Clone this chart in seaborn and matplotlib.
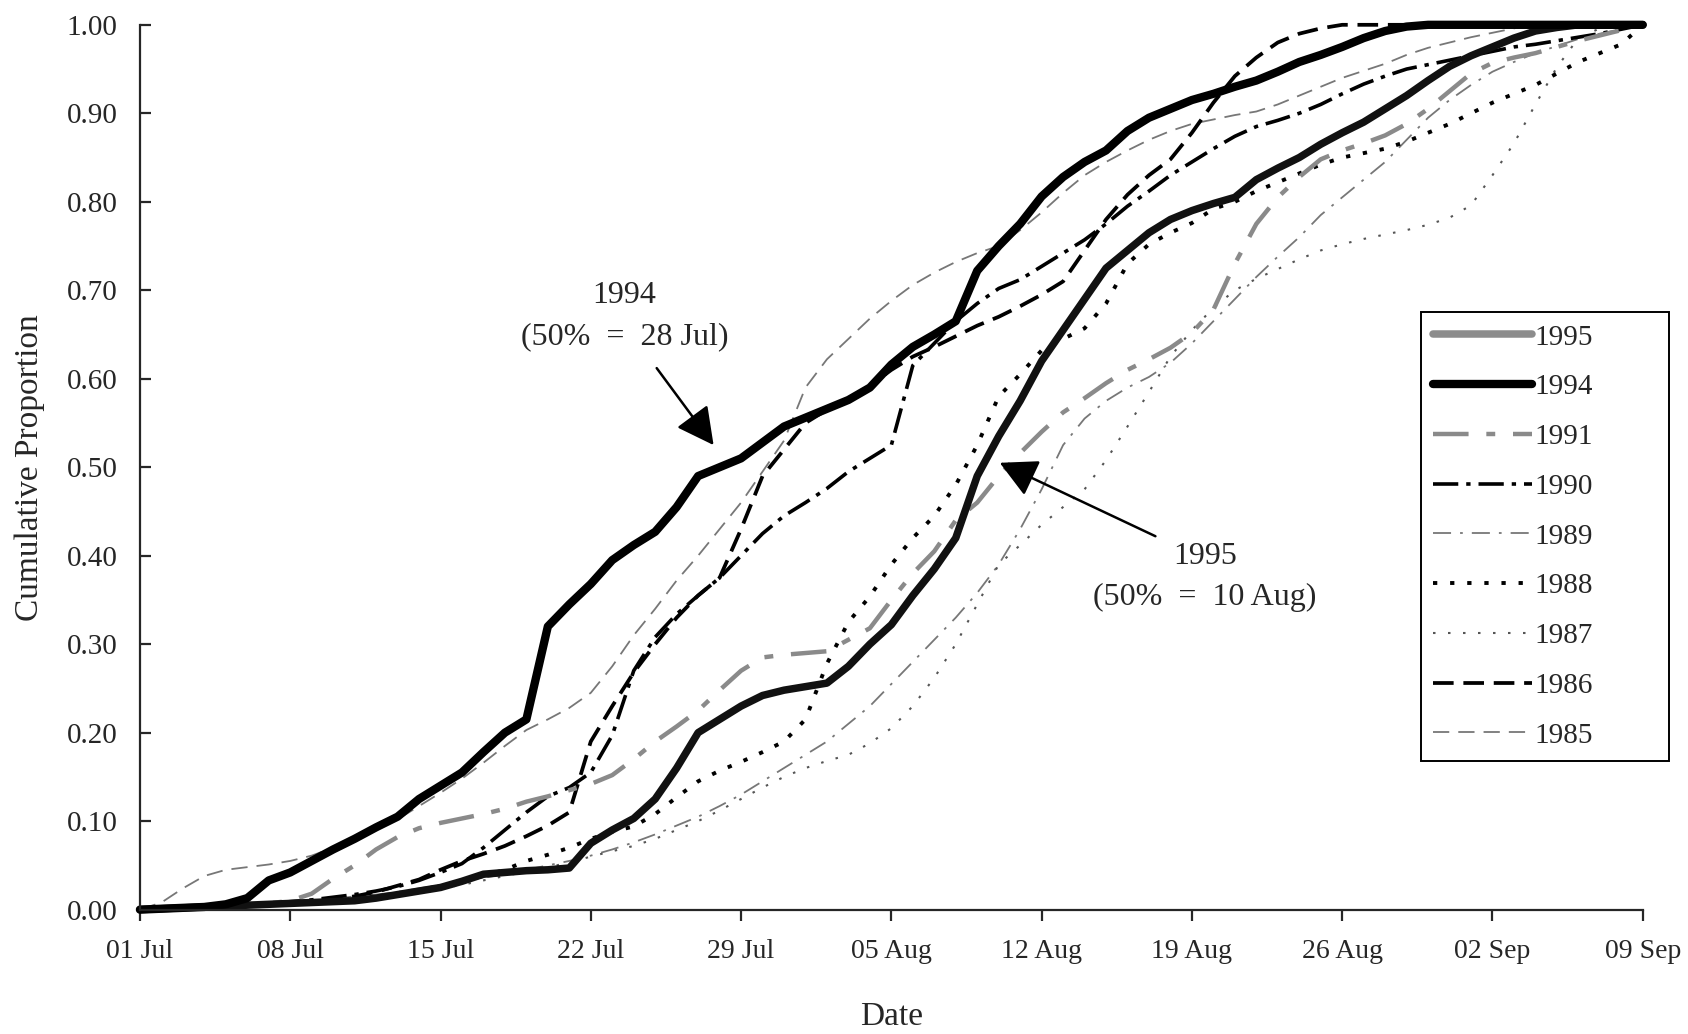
import matplotlib
matplotlib.use("Agg")
import matplotlib.pyplot as plt
import seaborn as sns
import pandas as pd
from matplotlib.lines import Line2D

# ---------------- data ----------------
days = list(range(71))  # 0 = 01 Jul ... 70 = 09 Sep
tick_days = [0, 7, 14, 21, 28, 35, 42, 49, 56, 63, 70]
tick_labels = ["01 Jul", "08 Jul", "15 Jul", "22 Jul", "29 Jul", "05 Aug",
               "12 Aug", "19 Aug", "26 Aug", "02 Sep", "09 Sep"]
y_ticks = [0.0, 0.1, 0.2, 0.3, 0.4, 0.5, 0.6, 0.7, 0.8, 0.9, 1.0]

y1994 = [0.000, 0.001, 0.002, 0.003, 0.006, 0.013, 0.033, 0.042, 0.055, 0.068,
         0.080, 0.093, 0.105, 0.125, 0.140, 0.155, 0.178, 0.200, 0.215, 0.320,
         0.345, 0.368, 0.395, 0.412, 0.427, 0.455, 0.490, 0.500, 0.510, 0.528,
         0.546, 0.556, 0.566, 0.576, 0.590, 0.616, 0.636, 0.650, 0.665, 0.722,
         0.750, 0.775, 0.806, 0.828, 0.845, 0.858, 0.880, 0.895, 0.905, 0.915,
         0.922, 0.930, 0.937, 0.947, 0.958, 0.966, 0.975, 0.985, 0.993, 0.998,
         1.000, 1.000, 1.000, 1.000, 1.000, 1.000, 1.000, 1.000, 1.000, 1.000,
         1.000]

y1995 = [0.000, 0.001, 0.002, 0.003, 0.004, 0.005, 0.006, 0.007, 0.008, 0.009,
         0.010, 0.013, 0.017, 0.021, 0.025, 0.032, 0.040, 0.042, 0.044, 0.045,
         0.047, 0.075, 0.090, 0.103, 0.125, 0.160, 0.200, 0.215, 0.230, 0.242,
         0.248, 0.252, 0.256, 0.275, 0.300, 0.322, 0.355, 0.385, 0.420, 0.490,
         0.535, 0.575, 0.620, 0.655, 0.690, 0.725, 0.745, 0.765, 0.780, 0.790,
         0.798, 0.805, 0.825, 0.838, 0.850, 0.865, 0.878, 0.890, 0.905, 0.920,
         0.937, 0.953, 0.965, 0.975, 0.985, 0.993, 0.997, 1.000, 1.000, 1.000,
         1.000]

y1991 = [0.000, 0.001, 0.002, 0.003, 0.004, 0.005, 0.007, 0.010, 0.018, 0.035,
         0.050, 0.068, 0.082, 0.092, 0.098, 0.103, 0.108, 0.114, 0.122, 0.128,
         0.135, 0.142, 0.152, 0.170, 0.190, 0.207, 0.225, 0.248, 0.270, 0.285,
         0.288, 0.290, 0.292, 0.305, 0.318, 0.350, 0.380, 0.405, 0.440, 0.460,
         0.490, 0.516, 0.540, 0.562, 0.578, 0.595, 0.610, 0.622, 0.635, 0.652,
         0.678, 0.730, 0.775, 0.805, 0.828, 0.848, 0.858, 0.866, 0.875, 0.888,
         0.905, 0.925, 0.945, 0.957, 0.963, 0.968, 0.975, 0.982, 0.988, 0.994,
         1.000]

y1990 = [0.000, 0.000, 0.001, 0.002, 0.003, 0.005, 0.007, 0.009, 0.011, 0.014,
         0.017, 0.021, 0.026, 0.033, 0.042, 0.052, 0.070, 0.090, 0.110, 0.128,
         0.138, 0.155, 0.197, 0.270, 0.308, 0.334, 0.355, 0.375, 0.400, 0.425,
         0.445, 0.460, 0.476, 0.495, 0.510, 0.525, 0.615, 0.640, 0.665, 0.685,
         0.702, 0.712, 0.727, 0.742, 0.757, 0.775, 0.795, 0.812, 0.830, 0.845,
         0.860, 0.874, 0.885, 0.892, 0.900, 0.910, 0.922, 0.933, 0.942, 0.950,
         0.955, 0.960, 0.965, 0.970, 0.975, 0.978, 0.982, 0.986, 0.990, 0.995,
         1.000]

y1989 = [0.000, 0.000, 0.001, 0.002, 0.003, 0.004, 0.006, 0.008, 0.010, 0.012,
         0.015, 0.017, 0.020, 0.024, 0.028, 0.032, 0.036, 0.040, 0.045, 0.050,
         0.055, 0.061, 0.068, 0.076, 0.085, 0.095, 0.105, 0.117, 0.130, 0.145,
         0.160, 0.175, 0.190, 0.210, 0.230, 0.255, 0.280, 0.305, 0.330, 0.358,
         0.390, 0.430, 0.475, 0.525, 0.555, 0.575, 0.590, 0.602, 0.618, 0.640,
         0.665, 0.690, 0.715, 0.738, 0.760, 0.785, 0.805, 0.825, 0.845, 0.870,
         0.895, 0.915, 0.932, 0.947, 0.958, 0.968, 0.976, 0.984, 0.990, 0.995,
         1.000]

y1988 = [0.000, 0.000, 0.001, 0.002, 0.003, 0.004, 0.005, 0.006, 0.008, 0.010,
         0.012, 0.015, 0.018, 0.022, 0.027, 0.032, 0.038, 0.045, 0.055, 0.062,
         0.070, 0.080, 0.088, 0.094, 0.108, 0.127, 0.145, 0.157, 0.167, 0.178,
         0.190, 0.215, 0.278, 0.325, 0.354, 0.390, 0.420, 0.445, 0.480, 0.525,
         0.580, 0.605, 0.632, 0.645, 0.657, 0.685, 0.730, 0.752, 0.765, 0.776,
         0.792, 0.800, 0.812, 0.822, 0.832, 0.842, 0.850, 0.855, 0.860, 0.868,
         0.878, 0.888, 0.900, 0.912, 0.922, 0.932, 0.945, 0.958, 0.968, 0.978,
         1.000]

y1987 = [0.000, 0.000, 0.001, 0.001, 0.002, 0.003, 0.004, 0.005, 0.007, 0.009,
         0.011, 0.014, 0.017, 0.020, 0.024, 0.028, 0.033, 0.038, 0.043, 0.048,
         0.053, 0.060, 0.066, 0.072, 0.080, 0.090, 0.100, 0.112, 0.125, 0.138,
         0.150, 0.160, 0.168, 0.175, 0.188, 0.205, 0.230, 0.262, 0.300, 0.345,
         0.390, 0.412, 0.435, 0.455, 0.475, 0.508, 0.546, 0.585, 0.625, 0.655,
         0.680, 0.700, 0.713, 0.724, 0.735, 0.745, 0.752, 0.758, 0.763, 0.768,
         0.774, 0.782, 0.796, 0.830, 0.866, 0.910, 0.952, 0.985, 0.996, 1.000,
         1.000]

y1986 = [0.000, 0.000, 0.001, 0.002, 0.003, 0.004, 0.006, 0.008, 0.010, 0.012,
         0.015, 0.020, 0.027, 0.034, 0.045, 0.055, 0.063, 0.072, 0.083, 0.095,
         0.110, 0.190, 0.230, 0.268, 0.300, 0.330, 0.355, 0.375, 0.430, 0.490,
         0.520, 0.550, 0.565, 0.578, 0.592, 0.610, 0.625, 0.636, 0.648, 0.660,
         0.670, 0.682, 0.695, 0.710, 0.745, 0.780, 0.808, 0.830, 0.848, 0.878,
         0.912, 0.942, 0.963, 0.980, 0.990, 0.996, 1.000, 1.000, 1.000, 1.000,
         1.000, 1.000, 1.000, 1.000, 1.000, 1.000, 1.000, 1.000, 1.000, 1.000,
         1.000]

y1985 = [0.000, 0.008, 0.024, 0.038, 0.045, 0.048, 0.051, 0.055, 0.061, 0.070,
         0.080, 0.090, 0.102, 0.117, 0.132, 0.148, 0.166, 0.185, 0.203, 0.215,
         0.228, 0.245, 0.275, 0.310, 0.340, 0.372, 0.400, 0.430, 0.460, 0.495,
         0.530, 0.590, 0.622, 0.645, 0.668, 0.688, 0.706, 0.720, 0.732, 0.742,
         0.750, 0.768, 0.788, 0.810, 0.830, 0.845, 0.858, 0.870, 0.880, 0.888,
         0.893, 0.898, 0.902, 0.910, 0.920, 0.930, 0.940, 0.948, 0.956, 0.966,
         0.974, 0.980, 0.986, 0.991, 0.996, 1.000, 1.000, 1.000, 1.000, 1.000,
         1.000]

series = {"1995": y1995, "1994": y1994, "1991": y1991, "1990": y1990,
          "1989": y1989, "1988": y1988, "1987": y1987, "1986": y1986,
          "1985": y1985}

# ---------------- styles ----------------
styles = {
    "1985": dict(color="#777777", lw=1.3, ls=(0, (9, 5))),
    "1986": dict(color="black", lw=2.7, ls=(0, (5.5, 2.6))),
    "1987": dict(color="#555555", lw=1.5, ls=(0, (1.2, 6))),
    "1988": dict(color="black", lw=2.8, ls=(0, (1.1, 3.3))),
    "1989": dict(color="#777777", lw=1.3, ls=(0, (10, 5, 1.5, 5))),
    "1990": dict(color="black", lw=2.6, ls=(0, (7, 2.2, 1.2, 2.2))),
    "1991": dict(color="#8a8a8a", lw=3.2, ls=(0, (8, 4, 2, 4))),
    "1995": dict(color="#111111", lw=5.4, ls="-"),
    "1994": dict(color="black", lw=6.0, ls="-"),
}
legend_colors = {"1995": "#8c8c8c"}
draw_order = ["1985", "1989", "1987", "1988", "1986", "1990", "1991", "1995", "1994"]
legend_order = ["1995", "1994", "1991", "1990", "1989", "1988", "1987", "1986", "1985"]

sns.set_theme(style="ticks")
plt.rcParams["font.family"] = ["Liberation Serif", "DejaVu Serif"]
plt.rcParams["axes.linewidth"] = 1.6

fig = plt.figure(figsize=(16.88, 10.34), dpi=100)
ax = fig.add_axes([0.0829, 0.1203, 0.8903, 0.8557])

df = pd.DataFrame({"day": days, **series})
for yr in draw_order:
    st = styles[yr]
    sns.lineplot(data=df, x="day", y=yr, ax=ax, color=st["color"], linewidth=st["lw"],
                 linestyle=st["ls"], clip_on=False, solid_capstyle="round",
                 solid_joinstyle="round", dash_capstyle="butt", estimator=None,
                 sort=False, legend=False)

ax.set_xlim(0, 70)
ax.set_ylim(0, 1.0)
ax.set_xticks(tick_days)
ax.set_xticklabels(tick_labels)
ax.set_yticks(y_ticks)
ax.set_yticklabels([f"{v:.2f}" for v in y_ticks])
ax.tick_params(axis="x", direction="out", length=8, width=1.6, labelsize=20, pad=13)
ax.tick_params(axis="y", direction="in", length=8, width=1.6, labelsize=21, pad=16)
sns.despine(ax=ax)

ax.set_xlabel("Date", fontsize=24, va="center")
ax.set_ylabel("Cumulative Proportion", fontsize=24, va="center")
ax.xaxis.set_label_coords(0.5, -0.1214)
ax.yaxis.set_label_coords(-0.0735, 0.5)

# annotations
ax.text(22.57, 0.671, "1994\n(50%  =  28 Jul)", ha="center", va="center",
        fontsize=23, linespacing=1.55)
ax.annotate("", xy=(26.72, 0.525), xytext=(24.07, 0.612),
            arrowprops=dict(arrowstyle="-|>,head_length=1.15,head_width=0.6",
                            color="black", lw=1.8, shrinkA=0, shrinkB=0,
                            mutation_scale=20))
ax.text(49.6, 0.376, "1995\n(50%  =  10 Aug)", ha="center", va="center",
        fontsize=23, linespacing=1.55)
ax.annotate("", xy=(40.05, 0.505), xytext=(47.3, 0.422),
            arrowprops=dict(arrowstyle="-|>,head_length=1.15,head_width=0.6",
                            color="black", lw=1.8, shrinkA=0, shrinkB=0,
                            mutation_scale=20))

# legend
handles = []
for yr in legend_order:
    st = styles[yr]
    handles.append(Line2D([0], [0], color=legend_colors.get(yr, st["color"]),
                          lw=st["lw"], linestyle=st["ls"], solid_capstyle="round"))
leg = fig.legend(handles, legend_order, loc="upper left",
                 bbox_to_anchor=(0.8418, 0.268, 0.1469, 0.4304), mode="expand",
                 fontsize=21, frameon=True, fancybox=False, shadow=False,
                 edgecolor="black", framealpha=1, borderpad=0.42, labelspacing=0.8,
                 handlelength=3.4, handletextpad=0.08, borderaxespad=0)
leg.get_frame().set_linewidth(1.4)

fig.savefig("out.png", dpi=100, facecolor="white")
